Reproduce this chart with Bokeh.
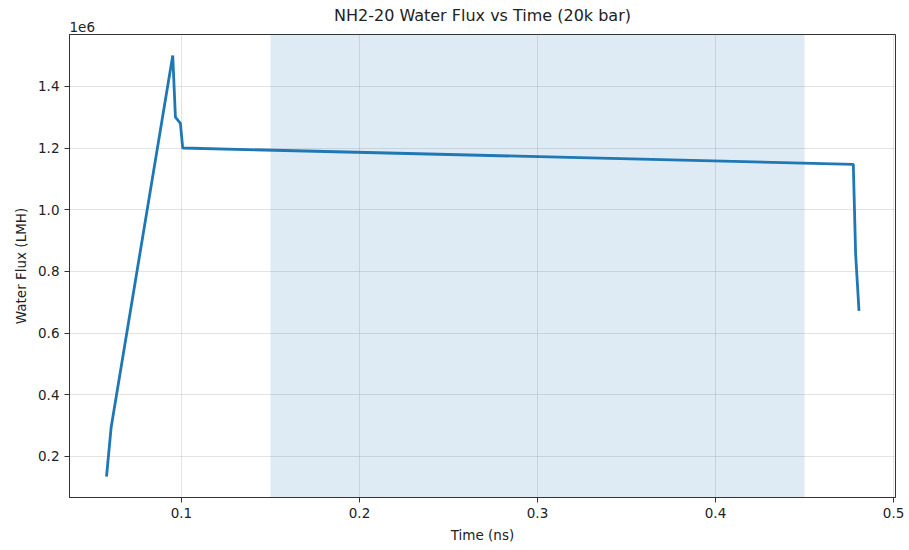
from bokeh.plotting import figure
from bokeh.models import BoxAnnotation, FixedTicker, CustomJSTickFormatter, Range1d, Title
from bokeh.embed import file_html
from bokeh.resources import INLINE

# Water flux trace (time in ns, flux in LMH)
time_ns = [0.0579, 0.0605, 0.0951, 0.0966, 0.0994, 0.1007, 0.4774, 0.4787, 0.4806]
flux_lmh = [0.135e6, 0.295e6, 1.50e6, 1.30e6, 1.28e6, 1.20e6, 1.147e6, 0.856e6, 0.672e6]

# Highlighted window
window_start = 0.15
window_end = 0.45

x_ticks = [0.1, 0.2, 0.3, 0.4, 0.5]
y_ticks = [0.2e6, 0.4e6, 0.6e6, 0.8e6, 1.0e6, 1.2e6, 1.4e6]

FONT = "DejaVu Sans"
BLUE = "#1f77b4"

p = figure(width=909, height=550, output_backend="svg", toolbar_location=None,
           x_range=Range1d(0.0371, 0.5011), y_range=Range1d(0.067e6, 1.568e6),
           min_border_left=69, min_border_right=14, min_border_top=34, min_border_bottom=53)

# Scale factor for the flux axis, just above the frame's top-left corner
p.add_layout(Title(text="1e6", align="left", standoff=6,
                   text_font=FONT, text_font_size="13.5px", text_font_style="normal",
                   text_color="#222222"), "above")

# Main title, pulled down so it shares the band with the scale factor
p.add_layout(Title(text="NH2-20 Water Flux vs Time (20k bar)", align="center", standoff=-17,
                   text_font=FONT, text_font_size="16px", text_font_style="normal",
                   text_color="#222222"), "above")

p.add_layout(BoxAnnotation(left=window_start, right=window_end,
                           fill_color=BLUE, fill_alpha=0.15, line_alpha=0))

p.line(time_ns, flux_lmh, line_color=BLUE, line_width=2.8)

p.xaxis.ticker = FixedTicker(ticks=x_ticks)
p.yaxis.ticker = FixedTicker(ticks=y_ticks)
p.yaxis.formatter = CustomJSTickFormatter(code="return (tick / 1e6).toFixed(1);")
p.xaxis.formatter = CustomJSTickFormatter(code="return tick.toFixed(1);")

p.xaxis.axis_label = "Time (ns)"
p.yaxis.axis_label = "Water Flux (LMH)"

for ax in (p.xaxis, p.yaxis):
    ax.axis_label_text_font = FONT
    ax.axis_label_text_font_size = "13.5px"
    ax.axis_label_text_font_style = "normal"
    ax.axis_label_text_color = "#222222"
    ax.major_label_text_font = FONT
    ax.major_label_text_font_size = "13.5px"
    ax.major_label_text_color = "#222222"
    ax.minor_tick_line_color = None
    ax.major_tick_out = 5
    ax.major_tick_in = 0
    ax.axis_line_color = "#333333"
    ax.major_tick_line_color = "#333333"
    ax.axis_label_standoff = 6

p.outline_line_color = "#333333"
p.outline_line_width = 1
p.grid.grid_line_color = "#b0b0b0"
p.grid.grid_line_alpha = 0.35

open("out.html", "w").write(file_html(p, INLINE))
